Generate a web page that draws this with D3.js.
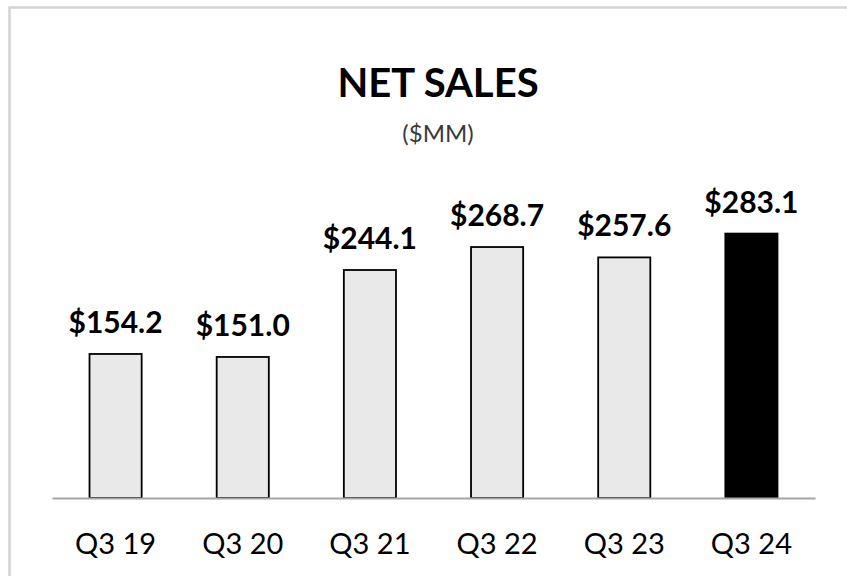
<!DOCTYPE html>
<html>
<head>
<meta charset="utf-8">
<script src="https://cdn.jsdelivr.net/npm/d3@7"></script>
<style>
  html, body { margin: 0; padding: 0; background: #ffffff; overflow: hidden; }
  svg { display: block; }
</style>
</head>
<body>
<div id="chart"></div>
<script>
const categories = ["Q3 19", "Q3 20", "Q3 21", "Q3 22", "Q3 23", "Q3 24"];
const netSales = [154.2, 151.0, 244.1, 268.7, 257.6, 283.1];
const highlight = [false, false, false, false, false, true];
const titleText = "NET SALES";
const subtitleText = "($MM)";

const W = 847, H = 576;
const svg = d3.select("#chart").append("svg").attr("width", W).attr("height", H);

svg.append("rect").attr("width", W).attr("height", H).attr("fill", "#fff");
// outer frame (only top & left edges visible)
svg.append("path")
  .attr("d", `M9.5,${H} L9.5,7.5 L${W},7.5`)
  .attr("fill", "none").attr("stroke", "#d3d3d3").attr("stroke-width", 2.5);

const x = d3.scaleBand().domain(categories).range([52, 815]).paddingInner(0.59).paddingOuter(0.295);
const y = d3.scaleLinear().domain([0, 300]).range([498, 217.8]);

const font = "Lato, 'Open Sans', sans-serif";

svg.append("text").attr("x", 438).attr("y", 97).attr("text-anchor", "middle")
  .attr("font-family", font).attr("font-weight", 700).attr("font-size", 40)
  .attr("fill", "#000").text(titleText);
svg.append("text").attr("x", 438).attr("y", 142).attr("text-anchor", "middle")
  .attr("font-family", font).attr("font-size", 24)
  .attr("fill", "#3a3a3a").text(subtitleText);

const data = categories.map((c, i) => ({ c, v: netSales[i], h: highlight[i] }));

svg.selectAll("rect.bar").data(data).enter().append("rect")
  .attr("class", "bar")
  .attr("x", d => x(d.c))
  .attr("y", d => y(d.v))
  .attr("width", x.bandwidth())
  .attr("height", d => y(0) - y(d.v))
  .attr("fill", d => d.h ? "#000" : "#e9e9e9")
  .attr("stroke", "#000").attr("stroke-width", 1.8);

// axis baseline + labels
const xAxis = d3.axisBottom(x).tickSize(0).tickPadding(0);
const gx = svg.append("g").attr("transform", `translate(0,${y(0)})`).call(xAxis);
gx.select(".domain").attr("stroke", "#a6a6a6").attr("stroke-width", 2);
gx.selectAll("text").attr("font-family", font).attr("font-size", 29).attr("fill", "#000")
  .attr("dy", null).attr("y", 56);

svg.selectAll("text.val").data(data).enter().append("text")
  .attr("class", "val")
  .attr("x", d => x(d.c) + x.bandwidth() / 2)
  .attr("y", d => y(d.v) - 21)
  .attr("text-anchor", "middle")
  .attr("font-family", font).attr("font-weight", 700).attr("font-size", 30)
  .attr("fill", "#000")
  .text(d => "$" + d3.format(".1f")(d.v));
</script>
</body>
</html>
